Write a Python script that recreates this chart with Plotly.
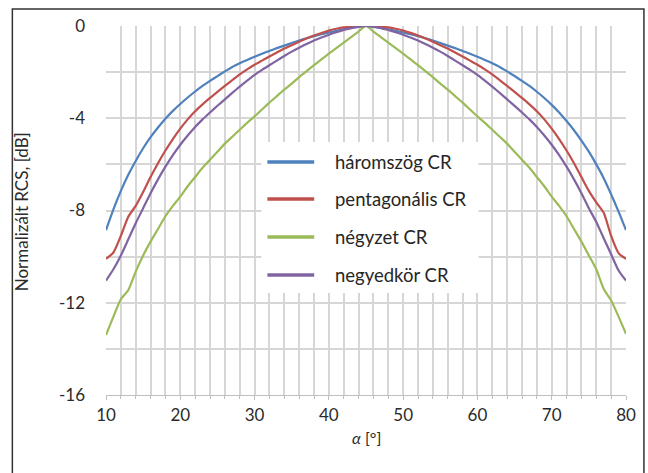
import plotly.graph_objects as go

alpha = list(range(10, 81))

haromszog = [-8.85, -7.95, -7.15, -6.45, -5.85, -5.3, -4.82, -4.4, -4.02, -3.68,
             -3.38, -3.1, -2.84, -2.6, -2.38, -2.17, -1.97, -1.78, -1.62, -1.47,
             -1.33, -1.2, -1.08, -0.96, -0.85, -0.74, -0.63, -0.53, -0.44, -0.36,
             -0.28, -0.21, -0.14, -0.08, -0.03, 0.0,
             -0.03, -0.08, -0.14, -0.21, -0.28, -0.36, -0.44, -0.53, -0.63, -0.74,
             -0.85, -0.96, -1.08, -1.2, -1.33, -1.47, -1.62, -1.78, -1.97, -2.17,
             -2.38, -2.6, -2.85, -3.12, -3.42, -3.75, -4.12, -4.52, -4.97, -5.45,
             -6.0, -6.6, -7.3, -8.05, -8.85]

pentagonalis = [-10.1, -9.82, -9.1, -8.27, -7.8, -7.2, -6.55, -5.95, -5.4, -4.9,
                -4.45, -4.05, -3.7, -3.4, -3.12, -2.86, -2.6, -2.35, -2.1, -1.88,
                -1.68, -1.5, -1.32, -1.15, -0.98, -0.83, -0.68, -0.54, -0.41, -0.3,
                -0.2, -0.12, -0.06, -0.03, -0.01, 0.0,
                -0.01, -0.03, -0.06, -0.12, -0.2, -0.3, -0.41, -0.54, -0.68, -0.83,
                -0.98, -1.15, -1.32, -1.5, -1.68, -1.88, -2.1, -2.35, -2.6, -2.86,
                -3.12, -3.4, -3.7, -4.05, -4.45, -4.9, -5.4, -5.95, -6.55, -7.15,
                -7.65, -8.1, -9.1, -9.85, -10.1]

negyzet = [-13.4, -12.6, -11.85, -11.45, -10.65, -9.95, -9.35, -8.8, -8.25, -7.8,
           -7.4, -6.95, -6.55, -6.15, -5.8, -5.45, -5.1, -4.8, -4.5, -4.2,
           -3.92, -3.62, -3.32, -3.04, -2.76, -2.5, -2.22, -1.96, -1.7, -1.45,
           -1.2, -0.96, -0.72, -0.48, -0.24, 0.0,
           -0.24, -0.48, -0.72, -0.96, -1.2, -1.45, -1.7, -1.96, -2.22, -2.5,
           -2.76, -3.04, -3.32, -3.62, -3.92, -4.2, -4.5, -4.8, -5.1, -5.45,
           -5.8, -6.15, -6.55, -6.95, -7.4, -7.8, -8.25, -8.8, -9.35, -9.95,
           -10.55, -11.4, -11.9, -12.6, -13.35]

negyedkor = [-11.04, -10.55, -9.95, -9.25, -8.55, -7.9, -7.25, -6.65, -6.1, -5.6,
             -5.15, -4.75, -4.38, -4.05, -3.75, -3.46, -3.18, -2.9, -2.63, -2.37,
             -2.12, -1.9, -1.7, -1.5, -1.3, -1.11, -0.94, -0.78, -0.63, -0.5,
             -0.38, -0.27, -0.17, -0.09, -0.04, 0.0,
             -0.04, -0.09, -0.17, -0.27, -0.38, -0.5, -0.63, -0.78, -0.94, -1.11,
             -1.3, -1.5, -1.7, -1.9, -2.12, -2.37, -2.63, -2.9, -3.18, -3.46,
             -3.75, -4.05, -4.38, -4.75, -5.15, -5.6, -6.1, -6.65, -7.25, -7.9,
             -8.5, -9.2, -9.9, -10.6, -11.04]

series_names = ["háromszög CR", "pentagonális CR", "négyzet CR", "negyedkör CR"]
series_vals = [haromszog, pentagonalis, negyzet, negyedkor]
series_colors = ["#4F81BD", "#C0504D", "#9BBB59", "#8064A2"]

x_ticks = [10, 20, 30, 40, 50, 60, 70, 80]
y_ticks = [0, -4, -8, -12, -16]
y_ticktext = ["0", "-4", "-8", "-12", "-16"]

FONT = "Lato, 'Open Sans', sans-serif"
TXT = "#2b2b2b"
GRID = "#d6d6d6"

W, H = 648, 473
ml, mr, mt, mb = 106, 20, 26, 78
pw, ph = W - ml - mr, H - mt - mb


def px_x(p):
    return (p - ml) / pw


def px_y(p):
    return 1 - (p - mt) / ph


fig = go.Figure()
for name, vals, col in zip(series_names, series_vals, series_colors):
    fig.add_trace(go.Scatter(x=alpha, y=vals, mode="lines", name=name, showlegend=False,
                             line=dict(color=col, width=2.2, shape="spline", smoothing=0.6)))

# manual legend (box, sample lines, labels)
shapes = [
    dict(type="rect", xref="paper", yref="paper", x0=px_x(262), x1=px_x(480),
         y0=px_y(293), y1=px_y(142), line=dict(width=0), fillcolor="white", layer="above"),
]
annotations = []
row_y = [162, 199, 237, 275]
for ry, name, col in zip(row_y, series_names, series_colors):
    shapes.append(dict(type="line", xref="paper", yref="paper", x0=px_x(268), x1=px_x(315),
                       y0=px_y(ry), y1=px_y(ry), line=dict(color=col, width=3.5), layer="above"))
    annotations.append(dict(text=name, xref="paper", yref="paper", x=px_x(334), y=px_y(ry),
                            xanchor="left", yanchor="middle", showarrow=False,
                            font=dict(family=FONT, size=18.5, color="#262626")))

annotations += [
    dict(text="<i>α</i> [°]", xref="paper", yref="paper", x=px_x(368), y=px_y(437),
         showarrow=False, font=dict(size=16, color=TXT), xanchor="center", yanchor="middle"),
    dict(text="Normalizált RCS, [dB]", xref="paper", yref="paper", x=px_x(21), y=px_y(212),
         showarrow=False, textangle=-90, font=dict(size=17, color=TXT),
         xanchor="center", yanchor="middle"),
]

shapes.append(dict(type="rect", xref="paper", yref="paper", x0=px_x(12), x1=px_x(646),
                   y0=px_y(480), y1=px_y(9), line=dict(color="#333333", width=1.5),
                   fillcolor="rgba(0,0,0,0)", layer="below"))

fig.update_layout(
    width=W, height=H,
    margin=dict(l=ml, r=mr, t=mt, b=mb, pad=0),
    paper_bgcolor="white", plot_bgcolor="white",
    font=dict(family=FONT, color=TXT, size=17),
    showlegend=False,
    xaxis=dict(range=[10, 80], tickvals=x_ticks, showgrid=True, gridcolor=GRID,
               gridwidth=1.5, zeroline=False, showline=True, linecolor="#bfbfbf",
               ticks="outside", ticklen=4, tickcolor="#bfbfbf",
               minor=dict(dtick=2, showgrid=True, gridcolor=GRID, gridwidth=1.5,
                          ticks="outside", ticklen=3, tickcolor="#bfbfbf"),
               tickfont=dict(size=17, color=TXT), ticklabelstandoff=1),
    yaxis=dict(range=[-16, 0], tickvals=y_ticks, ticktext=y_ticktext, showgrid=True,
               gridcolor=GRID, gridwidth=1.5, zeroline=False, showline=False,
               minor=dict(dtick=2, showgrid=True, gridcolor=GRID, gridwidth=1.5),
               tickfont=dict(size=17, color=TXT), ticklabelstandoff=20),
    annotations=annotations,
    shapes=shapes,
)

fig.write_html("out.html")
